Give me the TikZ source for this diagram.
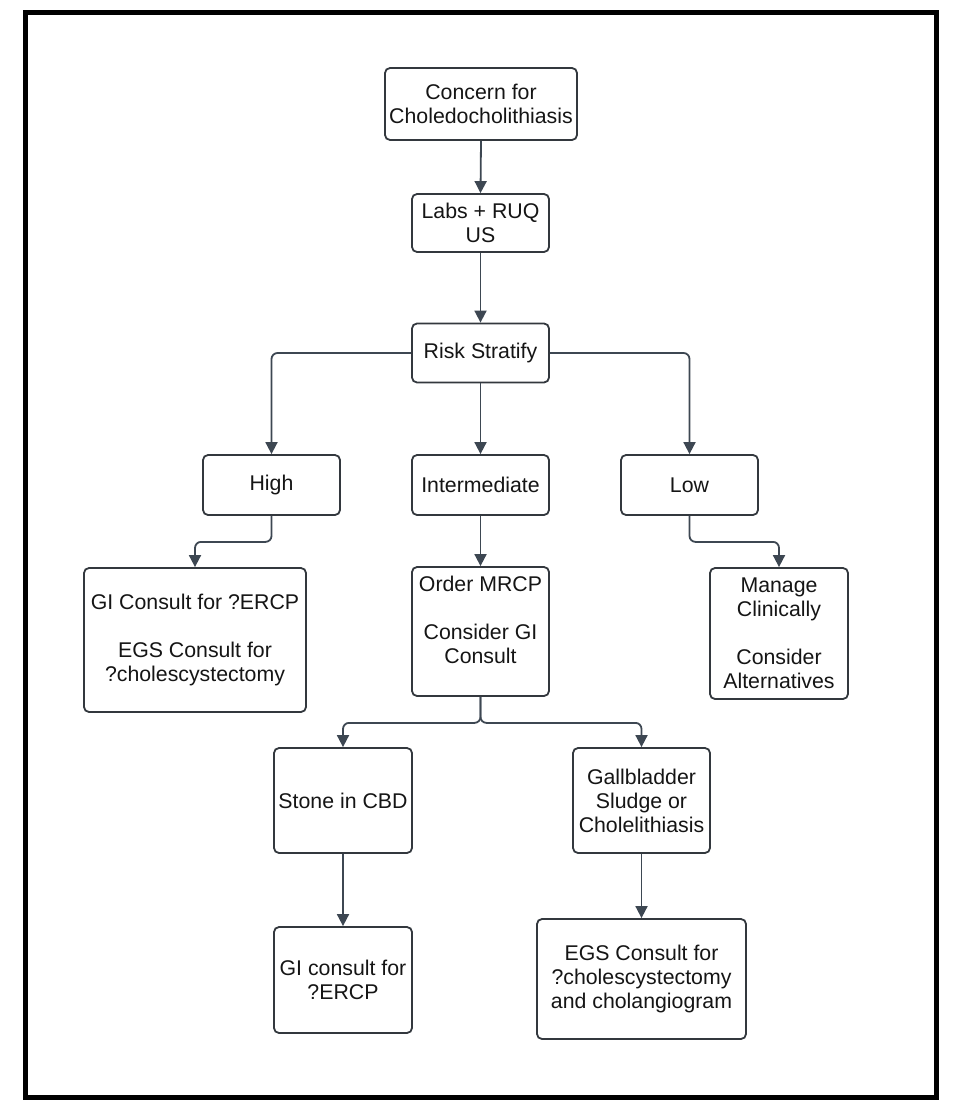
\documentclass[tikz,border=0pt]{standalone}
\usepackage{fontspec}
\setmainfont{Liberation Sans}
\usetikzlibrary{arrows.meta}
\definecolor{edgec}{HTML}{3D4752}
\definecolor{boxc}{HTML}{33383E}
\definecolor{txtc}{HTML}{151515}
\begin{document}
\begin{tikzpicture}[x=1pt,y=-1pt,
  box/.style={draw=boxc,line width=1.8pt,rounded corners=5pt,inner sep=0pt,align=center,
    text=txtc,font=\fontsize{21.3}{24}\selectfont,fill=white},
  conn/.style={draw=edgec,line width=1.8pt,rounded corners=6pt,-{Triangle[width=12pt,length=12pt]}}]
\useasboundingbox (0,0) rectangle (960,1115);
\draw[line width=5pt] (25.5,12.5) rectangle (936,1097);
\node[box,minimum width=192pt,minimum height=72pt] (concern) at (481,104) {Concern for\\Choledocholithiasis};
\node[box,minimum width=137pt,minimum height=58pt] (labs) at (480.5,223) {Labs + RUQ\\US};
\node[box,minimum width=137pt,minimum height=59pt] (risk) at (480.5,353) {Risk Stratify};
\node[box,minimum width=137pt,minimum height=60pt] (high) at (271.5,485) {High};
\node[box,minimum width=137pt,minimum height=60pt] (inter) at (480.5,485) {Intermediate};
\node[box,minimum width=137pt,minimum height=60pt] (low) at (689.5,485) {Low};
\node[box,minimum width=222pt,minimum height=144pt] (gi) at (195,640) {GI Consult for ?ERCP\\[24pt]EGS Consult for\\?cholescystectomy};
\node[box,minimum width=137pt,minimum height=129pt] (mrcp) at (480.5,631.5) {Order MRCP\\[24pt]Consider GI\\Consult\\\mbox{}};
\node[box,minimum width=138pt,minimum height=131pt] (manage) at (779,633.5) {Manage\\Clinically\\[24pt]Consider\\Alternatives};
\node[box,minimum width=138pt,minimum height=105pt] (stone) at (343,800.5) {Stone in CBD};
\node[box,minimum width=137pt,minimum height=105pt] (gall) at (641.5,800.5) {Gallbladder\\Sludge or\\Cholelithiasis};
\node[box,minimum width=138pt,minimum height=106pt] (gic) at (343,980) {GI consult for\\?ERCP};
\node[box,minimum width=209pt,minimum height=120pt] (egs) at (641.5,979) {EGS Consult for\\?cholescystectomy\\and cholangiogram};
\path[conn] (concern.south) -- (labs.north);
\path[conn] (labs.south) -- (risk.north);
\path[conn] (risk.west) -| (high.north);
\path[conn] (risk.south) -- (inter.north);
\path[conn] (risk.east) -| (low.north);
\path[conn] (high.south) -- ++(0,26) -| (gi.north);
\path[conn] (inter.south) -- (mrcp.north);
\path[conn] (low.south) -- ++(0,26) -| (manage.north);
\path[conn] (mrcp.south) -- ++(0,26) -| (stone.north);
\path[conn] (mrcp.south) -- ++(0,26) -| (gall.north);
\path[conn] (stone.south) -- (gic.north);
\path[conn] (gall.south) -- (egs.north);
\end{tikzpicture}
\end{document}
